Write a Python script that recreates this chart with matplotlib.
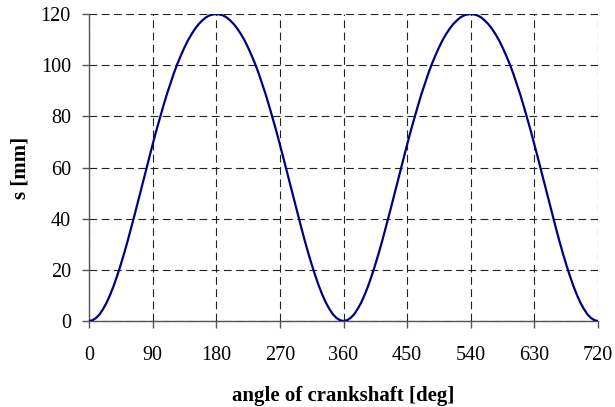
import matplotlib
matplotlib.use("Agg")
import matplotlib.pyplot as plt

# crank angle [deg] and piston travel s [mm], every 5 deg
angle = list(range(0, 721, 5))
half_up = [0, 0.3, 1.2, 2.6, 4.7, 7.2, 10.3, 13.8, 17.8, 22.1, 26.7, 31.6,
           36.8, 42.0, 47.4, 52.9, 58.3, 63.7, 69.0, 74.2, 79.1, 83.9, 88.5,
           92.7, 96.8, 100.5, 103.8, 106.9, 109.7, 112.1, 114.2, 116.0,
           117.4, 118.6, 119.4, 119.8, 120]
half_down = half_up[::-1][1:]
s = half_up + half_down + half_up[1:] + half_down

xticks = [0, 90, 180, 270, 360, 450, 540, 630, 720]
yticks = [0, 20, 40, 60, 80, 100, 120]

plt.rcParams['font.family'] = ['Liberation Serif', 'DejaVu Serif']

fig = plt.figure(figsize=(6.15, 4.07), dpi=100)
ax = fig.add_axes([0.1447, 0.2113, 0.8277, 0.7543])

ax.plot(angle, s, color='#000080', lw=1.6, zorder=3)

ax.set_xlim(0, 720)
ax.set_ylim(0, 120)
ax.set_xticks(xticks)
ax.set_yticks(yticks)
ax.grid(True, color='#222222', lw=0.8, linestyle=(0, (7, 4)))
ax.set_axisbelow(True)

for side in ['top', 'right']:
    ax.spines[side].set_visible(False)
for side in ['left', 'bottom']:
    ax.spines[side].set_color('#555555')
    ax.spines[side].set_linewidth(1.0)

ax.tick_params(axis='x', direction='out', length=5, width=1, color='#555555',
               pad=13, labelsize=14.5)
ax.tick_params(axis='y', direction='out', length=5, width=1, color='#555555',
               pad=8, labelsize=14.5)

ax.set_xlabel('angle of crankshaft [deg]', fontsize=15, fontweight='bold', labelpad=15)
ax.set_ylabel('s [mm]', fontsize=15, fontweight='bold', labelpad=7)

fig.savefig('out.png', dpi=100)
